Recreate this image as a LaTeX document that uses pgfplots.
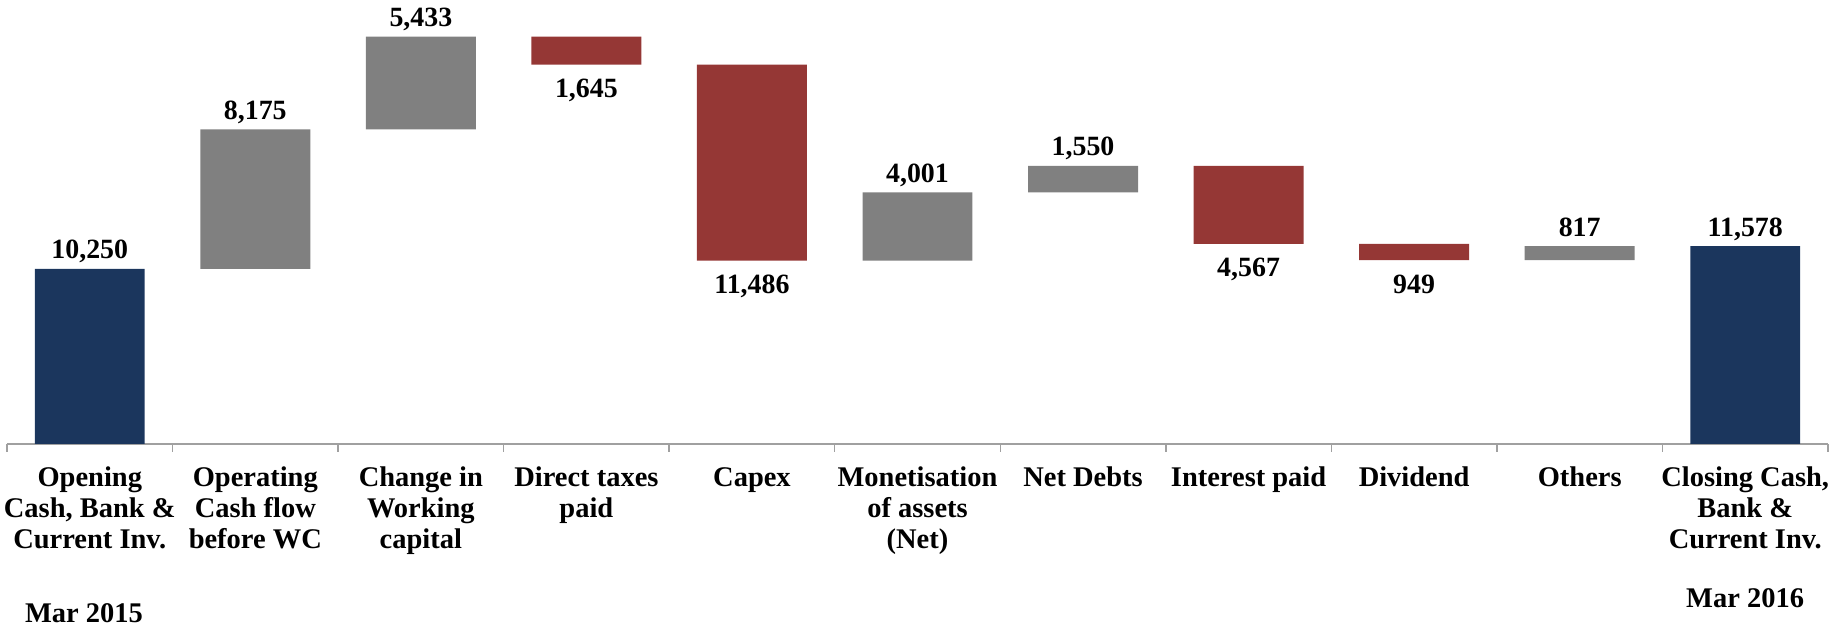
\documentclass[border=0pt]{standalone}
\usepackage{fontspec}
\setmainfont{Liberation Serif}
\usepackage{pgfplots}
\pgfplotsset{compat=1.18}
\usepackage{pgfplotstable}

\definecolor{navy}{RGB}{27,54,93}
\definecolor{flowgrey}{RGB}{128,128,128}
\definecolor{flowred}{RGB}{149,55,53}
\definecolor{axisgrey}{RGB}{160,160,160}

% waterfall: invisible base + visible step
\pgfplotstableread{
x base total up down
0 0 10250 0 0
1 10250 0 8175 0
2 18425 0 5433 0
3 22213 0 0 1645
4 10727 0 0 11486
5 10727 0 4001 0
6 14728 0 1550 0
7 11711 0 0 4567
8 10762 0 0 949
9 10762 0 817 0
10 0 11578 0 0
}\flows

\begin{document}
\begin{tikzpicture}[font=\bfseries\fontsize{14}{15.5}\selectfont,
  up/.style={anchor=base, yshift=5bp},
  dn/.style={anchor=base, yshift=-16.5bp}]
\begin{axis}[
  at={(0,0)}, anchor=south west,
  scale only axis, width=911bp, height=222bp,
  xmin=-0.5, xmax=10.5, ymin=0, ymax=26000,
  clip=false,
  ybar stacked, bar width=55bp,
  axis x line=bottom, axis y line=none,
  x axis line style={-, draw=axisgrey, line width=0.75bp},
  xtick={0,...,10}, major tick length=0pt,
  minor xtick={-0.5,0.5,...,10.5}, minor tick length=4bp,
  tick align=outside,
  minor tick style={draw=axisgrey, line width=0.75bp},
  xticklabels={
    {Opening\\Cash, Bank \&\\Current Inv.},
    {Operating\\Cash flow\\before WC},
    {Change in\\Working\\capital},
    {Direct taxes\\paid},
    {Capex},
    {Monetisation\\of assets\\(Net)},
    {Net Debts},
    {Interest paid},
    {Dividend},
    {Others},
    {Closing Cash,\\Bank \&\\Current Inv.}},
  xticklabel style={align=center, anchor=north, inner sep=0pt, yshift=-11.5bp,
    font=\bfseries\fontsize{14.3}{15.5}\selectfont},
]
\addplot[draw=none, fill=none] table[x=x, y=base] {\flows};
\addplot[fill=navy, draw=none] table[x=x, y=total] {\flows};
\addplot[fill=flowgrey, draw=none] table[x=x, y=up] {\flows};
\addplot[fill=flowred, draw=none] table[x=x, y=down] {\flows};

\node[up] at (axis cs:0,10250) {10,250};
\node[up] at (axis cs:1,18425) {8,175};
\node[up] at (axis cs:2,23858) {5,433};
\node[dn] at (axis cs:3,22213) {1,645};
\node[dn] at (axis cs:4,10727) {11,486};
\node[up] at (axis cs:5,14728) {4,001};
\node[up] at (axis cs:6,16278) {1,550};
\node[dn] at (axis cs:7,11711) {4,567};
\node[dn] at (axis cs:8,10762) {949};
\node[up] at (axis cs:9,11579) {817};
\node[up] at (axis cs:10,11578) {11,578};
\end{axis}
\node[anchor=base west, font=\bfseries\fontsize{14.3}{15.5}\selectfont] at (5.5bp,-89.5bp) {Mar 2015};
\node[anchor=base, font=\bfseries\fontsize{14.3}{15.5}\selectfont] at (869.5bp,-82bp) {Mar 2016};
\pgfresetboundingbox
\path[use as bounding box] (-3.5bp,-91.5bp) rectangle (912.5bp,222bp);
\end{tikzpicture}
\end{document}
